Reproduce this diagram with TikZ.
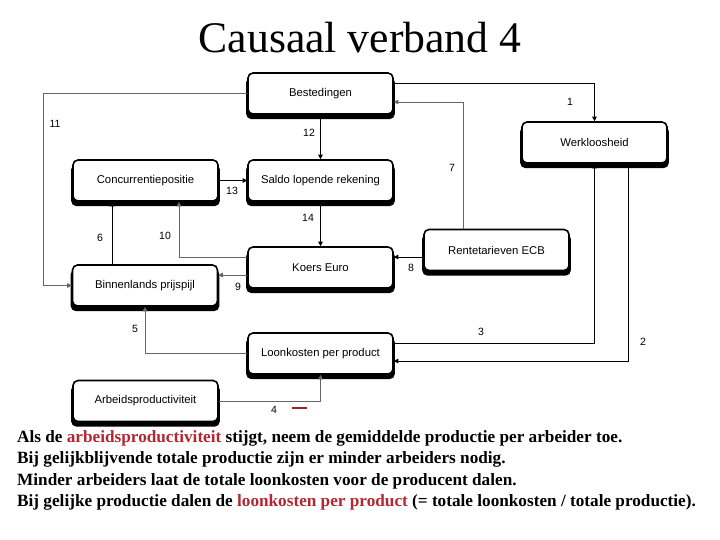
\documentclass[tikz,border=0pt]{standalone}
\usepackage{fontspec}
\setmainfont{Liberation Serif}
\setsansfont{Liberation Sans}
\usepackage{xcolor}
\usepackage{tikz}
\usetikzlibrary{arrows.meta,positioning,calc,shadows}
\definecolor{accent}{RGB}{178,40,50}
\tikzset{
  box/.style ={draw,rounded corners=5pt,fill=white,line width=1.6pt,
               minimum width=145pt,minimum height=41pt,inner sep=0pt,
               font=\sffamily\fontsize{11.3}{13}\selectfont,
               drop shadow={shadow xshift=0pt,shadow yshift=-4.5pt,
                            shadow scale=1.025,fill=black,opacity=1}},
  link/.style={-{Triangle[length=4.5pt,width=4.5pt]},line width=0.7pt},
  glink/.style={link,draw=black!60},
  num/.style ={font=\sffamily\fontsize{10.5}{12}\selectfont,inner sep=0pt},
  body/.style={anchor=west,inner sep=0pt,font=\bfseries\fontsize{17.2}{21}\selectfont},
}
\begin{document}
\begin{tikzpicture}[x=1pt,y=-1pt]
  \useasboundingbox (0,0) rectangle (720,540);
  \node[font=\fontsize{43.7}{48}\selectfont] (title) at (360,38) {Causaal verband 4};

  % the boxes
  \node[box] (best)   at (320.5,93.5)  {Bestedingen};
  \node[box] (conc)   at (145.5,180.5) {Concurrentiepositie};
  \node[box] (saldo)  at (320.5,180.5) {Saldo lopende rekening};
  \node[box] (werk)   at (594.5,142.5) {Werkloosheid};
  \node[box] (rente)  at (496.5,250)   {Rentetarieven ECB};
  \node[box] (koers)  at (320.5,267.5) {Koers Euro};
  \node[box] (binnen) at (145,285.5)   {Binnenlands prijspijl};
  \node[box] (loon)   at (320.5,353.5) {Loonkosten per product};
  \node[box] (arbeid) at (145.5,401)   {Arbeidsproductiviteit};

  % the causal links
  \draw[link]  ([yshift=10pt]best.east) -| (werk.north);
  \draw[glink] (best.west) -- ++(-204,0) |- (binnen.west);
  \draw[link]  (best.south) -- (saldo.north);
  \draw[link]  (conc.east) -- (saldo.west);
  \draw[link]  (saldo.south) -- (koers.north);
  \draw[glink] ([xshift=-33.5pt]rente.north) |- ([yshift=-8.5pt]best.east);
  \draw[link]  ([xshift=-33pt]binnen.north) -- ([xshift=-33.5pt]conc.south);
  \draw[glink] ([yshift=10pt]koers.west) -| ([xshift=33.5pt]conc.south);
  \draw[glink] ([yshift=-7.5pt]koers.west) -- ([yshift=10.5pt]binnen.east);
  \draw[link]  ([yshift=-7pt]rente.west) -- ([yshift=10.5pt]koers.east);
  \draw[glink] (loon.west) -| (binnen.south);
  \draw[link]  ([yshift=10.5pt]loon.east) -| (werk.south);
  \draw[link]  ([xshift=33.5pt]werk.south) |- ([yshift=-7.5pt]loon.east);
  \draw[glink] (arbeid.east) -| (loon.south);

  % numbers of the links
  \foreach \n/\x/\y in {1/570/102, 11/55/124, 12/309/133, 13/232/191, 14/308/218,
                        7/452/168, 6/100/238, 10/165/236, 9/238/287, 8/411/268,
                        5/135/329, 3/481/332, 2/643/342, 4/274/410}{
    \node[num] (n\n) at (\x,\y) {\n};
  }
  \draw[accent!85!black,line width=1.6pt] (292,408) -- (307,408);

  % explanation below
  \node[body] (t1) at (17,438) {Als de \textcolor{accent}{arbeidsproductiviteit} stijgt, neem de gemiddelde productie per arbeider toe.};
  \node[body] (t2) at (17,459.5) {Bij gelijkblijvende totale productie zijn er minder arbeiders nodig.};
  \node[body] (t3) at (17,481) {Minder arbeiders laat de totale loonkosten voor de producent dalen.};
  \node[body] (t4) at (17,502.5) {Bij gelijke productie dalen de \textcolor{accent}{loonkosten per product} (= totale loonkosten / totale productie).};
\end{tikzpicture}
\end{document}
